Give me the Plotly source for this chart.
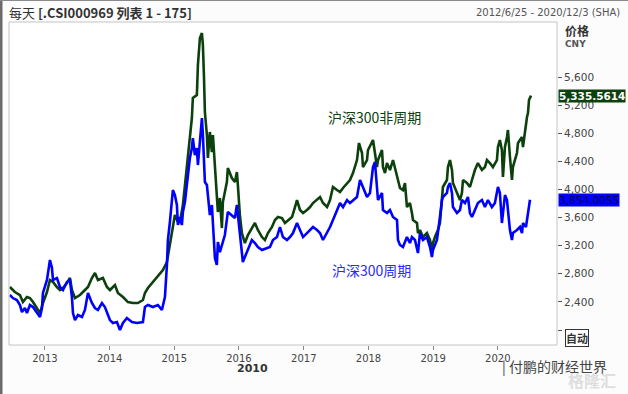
import datetime as dt
import plotly.graph_objects as go

# ---- data (decimal years, index values) ----
green_t = [2012.459, 2012.536, 2012.614, 2012.660, 2012.722, 2012.768, 2012.815, 2012.876, 2012.923, 2012.969,
           2013.031, 2013.077, 2013.124, 2013.185, 2013.232, 2013.278, 2013.340, 2013.386, 2013.417, 2013.464,
           2013.541, 2013.618, 2013.665, 2013.726, 2013.773, 2013.819, 2013.896, 2013.958, 2014.005, 2014.082,
           2014.128, 2014.206, 2014.283, 2014.360, 2014.437, 2014.515, 2014.546, 2014.592, 2014.669, 2014.747,
           2014.824, 2014.886, 2014.917, 2014.963, 2015.009, 2015.056, 2015.087, 2015.133, 2015.164, 2015.195,
           2015.210, 2015.272, 2015.287, 2015.349, 2015.365, 2015.396, 2015.427, 2015.442, 2015.458, 2015.473,
           2015.504, 2015.519, 2015.550, 2015.581, 2015.597, 2015.628, 2015.658, 2015.674, 2015.705, 2015.736,
           2015.751, 2015.813, 2015.828, 2015.890, 2015.937, 2015.968, 2015.983, 2016.014, 2016.045, 2016.091,
           2016.138, 2016.199, 2016.246, 2016.292, 2016.354, 2016.400, 2016.447, 2016.509, 2016.555, 2016.601,
           2016.663, 2016.709, 2016.756, 2016.818, 2016.864, 2016.895, 2016.941, 2016.988, 2017.049, 2017.096,
           2017.142, 2017.204, 2017.250, 2017.297, 2017.359, 2017.405, 2017.451, 2017.513, 2017.560, 2017.606,
           2017.668, 2017.714, 2017.760, 2017.822, 2017.853, 2017.900, 2017.915, 2017.977, 2017.992, 2018.054,
           2018.070, 2018.100, 2018.131, 2018.147, 2018.209, 2018.224, 2018.255, 2018.286, 2018.332, 2018.379,
           2018.441, 2018.487, 2018.533, 2018.564, 2018.595, 2018.641, 2018.672, 2018.688, 2018.750, 2018.765,
           2018.796, 2018.842, 2018.904, 2018.951, 2018.981, 2018.997, 2019.028, 2019.074, 2019.105, 2019.136,
           2019.151, 2019.213, 2019.229, 2019.260, 2019.291, 2019.306, 2019.368, 2019.414, 2019.445, 2019.461,
           2019.522, 2019.569, 2019.600, 2019.646, 2019.692, 2019.754, 2019.801, 2019.832, 2019.878, 2019.924,
           2019.986, 2020.002, 2020.032, 2020.063, 2020.079, 2020.110, 2020.141, 2020.156, 2020.187, 2020.218,
           2020.233, 2020.264, 2020.295, 2020.311, 2020.342, 2020.373, 2020.388, 2020.419, 2020.450, 2020.465,
           2020.481, 2020.512]
green_v = [2612, 2541, 2498, 2398, 2470, 2455, 2398, 2313, 2242, 2384,
           2541, 2712, 2683, 2612, 2569, 2598, 2669, 2740, 2569, 2455,
           2498, 2569, 2612, 2740, 2811, 2712, 2740, 2612, 2569, 2640,
           2527, 2470, 2398, 2384, 2384, 2427, 2527, 2598, 2683, 2783,
           2854, 2968, 3138, 3423, 3636, 3537, 3537, 3779, 4063, 4348,
           4490, 5017, 5301, 5344, 5771, 6155, 6226, 6056, 5629, 5102,
           4775, 4448, 4818, 4533, 4775, 4348, 3821, 3679, 3878, 3451,
           3821, 4106, 4305, 4163, 4106, 4248, 4063, 3636, 3380, 3238,
           3352, 3451, 3523, 3423, 3323, 3281, 3380, 3466, 3565, 3608,
           3594, 3523, 3565, 3608, 3750, 3850, 3708, 3665, 3708, 3750,
           3807, 3850, 3893, 3807, 3750, 3850, 4035, 3992, 3964, 4021,
           4092, 4135, 4234, 4419, 4661, 4519, 4319, 4419, 4561, 4661,
           4704, 4519, 4319, 4419, 4561, 4319, 4234, 4376, 4277, 4419,
           4177, 4021, 3992, 4092, 3750, 3807, 3665, 3565, 3523, 3380,
           3423, 3323, 3380, 3281, 3138, 3238, 3323, 3423, 3523, 3807,
           4035, 4135, 4319, 4419, 4277, 4092, 3950, 3850, 3950, 4135,
           4092, 4035, 4135, 4277, 4376, 4277, 4319, 4419, 4376, 4319,
           4419, 4604, 4704, 4561, 4177, 4604, 4746, 4846, 4462, 4135,
           4319, 4419, 4519, 4661, 4704, 4746, 4604, 4846, 5031, 5088,
           5273, 5335.5614]

blue_t = [2012.459, 2012.505, 2012.567, 2012.614, 2012.645, 2012.691, 2012.722, 2012.768, 2012.815, 2012.876,
          2012.923, 2012.954, 2012.969, 2013.031, 2013.077, 2013.108, 2013.124, 2013.185, 2013.232, 2013.278,
          2013.340, 2013.386, 2013.417, 2013.433, 2013.464, 2013.510, 2013.572, 2013.618, 2013.665, 2013.726,
          2013.773, 2013.819, 2013.881, 2013.927, 2013.958, 2014.005, 2014.051, 2014.113, 2014.159, 2014.206,
          2014.267, 2014.345, 2014.422, 2014.515, 2014.546, 2014.592, 2014.669, 2014.747, 2014.808, 2014.855,
          2014.886, 2014.901, 2014.932, 2014.978, 2015.009, 2015.040, 2015.056, 2015.087, 2015.117, 2015.133,
          2015.164, 2015.195, 2015.210, 2015.241, 2015.272, 2015.287, 2015.318, 2015.349, 2015.365, 2015.396,
          2015.427, 2015.442, 2015.473, 2015.504, 2015.519, 2015.550, 2015.581, 2015.597, 2015.628, 2015.658,
          2015.674, 2015.705, 2015.736, 2015.782, 2015.828, 2015.890, 2015.937, 2015.968, 2015.983, 2016.014,
          2016.045, 2016.060, 2016.091, 2016.138, 2016.199, 2016.246, 2016.292, 2016.354, 2016.431, 2016.478,
          2016.524, 2016.586, 2016.632, 2016.678, 2016.740, 2016.787, 2016.833, 2016.895, 2016.941, 2016.988,
          2017.049, 2017.096, 2017.142, 2017.204, 2017.250, 2017.297, 2017.359, 2017.405, 2017.451, 2017.513,
          2017.560, 2017.606, 2017.668, 2017.714, 2017.760, 2017.822, 2017.869, 2017.915, 2017.977, 2018.023,
          2018.070, 2018.100, 2018.131, 2018.147, 2018.209, 2018.224, 2018.286, 2018.332, 2018.379, 2018.441,
          2018.456, 2018.487, 2018.533, 2018.595, 2018.641, 2018.672, 2018.719, 2018.765, 2018.796, 2018.842,
          2018.904, 2018.951, 2018.981, 2018.997, 2019.059, 2019.074, 2019.105, 2019.136, 2019.151, 2019.213,
          2019.229, 2019.260, 2019.291, 2019.306, 2019.368, 2019.414, 2019.445, 2019.492, 2019.538, 2019.569,
          2019.600, 2019.646, 2019.692, 2019.754, 2019.801, 2019.847, 2019.909, 2019.955, 2019.986, 2020.002,
          2020.032, 2020.063, 2020.110, 2020.141, 2020.156, 2020.187, 2020.218, 2020.233, 2020.295, 2020.342,
          2020.373, 2020.388, 2020.434, 2020.465, 2020.496]
blue_v = [2498, 2455, 2427, 2356, 2256, 2313, 2242, 2356, 2327, 2256,
          2185, 2313, 2527, 2712, 2996, 2882, 2712, 2740, 2612, 2569,
          2683, 2712, 2470, 2242, 2142, 2213, 2185, 2285, 2527, 2384,
          2313, 2285, 2384, 2327, 2256, 2142, 2100, 2114, 2000, 2100,
          2171, 2114, 2100, 2114, 2327, 2356, 2327, 2356, 2285, 2470,
          2925, 3281, 3537, 3992, 3921, 3779, 3494, 3608, 3494, 3679,
          3821, 4063, 4248, 4448, 4590, 4732, 4490, 4590, 4348, 4633,
          5017, 4775, 4106, 4063, 3878, 3636, 3779, 3494, 3025, 2925,
          3252, 3110, 3210, 3352, 3679, 3636, 3594, 3779, 3636, 3352,
          3067, 2968, 3039, 3138, 3281, 3238, 3181, 3138, 3167, 3181,
          3281, 3323, 3466, 3323, 3281, 3323, 3380, 3523, 3423, 3323,
          3380, 3423, 3466, 3423, 3380, 3281, 3380, 3466, 3565, 3708,
          3807, 3750, 3850, 3807, 3850, 3893, 4135, 4035, 3893, 3950,
          4319, 4391, 3992, 3850, 3950, 3708, 3665, 3708, 3608, 3565,
          3281, 3210, 3181, 3323, 3238, 3323, 3281, 3096, 3380, 3281,
          3323, 3181, 3039, 3138, 3281, 3423, 3608, 3850, 3893, 3950,
          4035, 4092, 3950, 3750, 3665, 3708, 3850, 3807, 3893, 3665,
          3608, 3708, 3807, 3850, 3750, 3850, 3750, 3807, 3992, 4035,
          3950, 3523, 3921, 3850, 3708, 3423, 3281, 3380, 3423, 3466,
          3380, 3523, 3466, 3665, 3854.0055]

green_name = "沪深300非周期"
blue_name = "沪深300周期"
year_ticks = [2013, 2014, 2015, 2016, 2017, 2018, 2019, 2020]
price_ticks = [2000, 2400, 2800, 3200, 3600, 4000, 4400, 4800, 5200, 5600]
price_labels = ["", "2,400", "2,800", "3,200", "3,600", "4,000", "4,400", "4,800", "5,200", "5,600"]


def to_date(t):
    y = int(t)
    a = dt.datetime(y, 1, 1)
    b = dt.datetime(y + 1, 1, 1)
    return a + (b - a) * (t - y)


green_x = [to_date(t) for t in green_t]
blue_x = [to_date(t) for t in blue_t]

GREEN = "#0c400c"
BLUE = "#0000ff"
FONT = "DejaVu Sans, Liberation Sans, Noto Sans CJK SC, sans-serif"
CJK = "Noto Sans CJK SC, sans-serif"

fig = go.Figure()
fig.add_trace(go.Scatter(x=green_x, y=green_v, mode="lines", name=green_name,
                         line=dict(color=GREEN, width=2.6), hoverinfo="skip"))
fig.add_trace(go.Scatter(x=blue_x, y=blue_v, mode="lines", name=blue_name,
                         line=dict(color=BLUE, width=2.6), hoverinfo="skip"))

# geometry helpers (plot area: x 9..557, y 22..345 px)
L, R, T, B, W, H = 9, 557, 22, 345, 628, 394
def px(x):
    return (x - L) / (R - L)
def py(y):
    return (B - y) / (B - T)

ann = []
ann.append(dict(text="每天 <b>[.CSI000969 列表 1 - 175]</b>", x=px(7), y=py(12), xref="paper", yref="paper",
                xanchor="left", yanchor="middle", showarrow=False, font=dict(family=CJK, size=13, color="#333333")))
ann.append(dict(text="2012/6/25 - 2020/12/3 (SHA)", x=px(622), y=py(12), xref="paper", yref="paper",
                xanchor="right", yanchor="middle", showarrow=False, font=dict(family=FONT, size=10, color="#555555")))
ann.append(dict(text="<b>价格</b>", x=px(563), y=py(31), xref="paper", yref="paper",
                xanchor="left", yanchor="middle", showarrow=False, font=dict(family=CJK, size=12, color="#333333")))
ann.append(dict(text="<b>CNY</b>", x=px(563), y=py(44), xref="paper", yref="paper",
                xanchor="left", yanchor="middle", showarrow=False, font=dict(family=FONT, size=9, color="#555555")))
ann.append(dict(text="<b>5,335.5614</b>", x=px(558), y=green_v[-1], xref="paper", yref="y",
                xanchor="left", yanchor="middle", showarrow=False, bgcolor=GREEN, borderpad=0,
                font=dict(family=FONT, size=10.5, color="#ffffff")))
ann.append(dict(text="3,854.0055", x=px(558), y=blue_v[-1], xref="paper", yref="y",
                xanchor="left", yanchor="middle", showarrow=False, bgcolor=BLUE, borderpad=0,
                font=dict(family=FONT, size=10.5, color="#000040")))
ann.append(dict(text="<b>自动</b>", x=px(565), y=py(338), xref="paper", yref="paper",
                xanchor="left", yanchor="middle", showarrow=False, bgcolor="#ffffff", bordercolor="#333333",
                borderwidth=1, borderpad=0, font=dict(family=CJK, size=11, color="#333333")))
ann.append(dict(text="<b>2010</b>", x=px(252), y=py(368), xref="paper", yref="paper",
                xanchor="center", yanchor="middle", showarrow=False, font=dict(family=FONT, size=11, color="#333333")))
ann.append(dict(text=green_name, x=to_date(2018.10), y=5031, xref="x", yref="y",
                xanchor="center", yanchor="middle", showarrow=False, font=dict(family=CJK, size=14, color=GREEN)))
ann.append(dict(text=blue_name, x=to_date(2018.05), y=2854, xref="x", yref="y",
                xanchor="center", yanchor="middle", showarrow=False, font=dict(family=CJK, size=14, color="#2a2aff")))
ann.append(dict(text="| 付鹏的财经世界", x=px(500), y=py(366), xref="paper", yref="paper",
                xanchor="left", yanchor="middle", showarrow=False, font=dict(family=CJK, size=14, color="#444444")))
ann.append(dict(text="<b>格隆汇</b>", x=px(592), y=py(380), xref="paper", yref="paper",
                xanchor="center", yanchor="middle", showarrow=False, font=dict(family=CJK, size=16, color="#dedede")))

shapes = [
    # window frame: left dark bar and top line
    dict(type="rect", xref="paper", yref="paper", x0=px(0), x1=px(2.5), y0=py(H), y1=py(0),
         fillcolor="#6b6b6b", line=dict(width=0), layer="above"),
    dict(type="line", xref="paper", yref="paper", x0=px(0), x1=px(W), y0=py(0.5), y1=py(0.5),
         line=dict(color="#8a8a8a", width=1)),
    # plot border
    dict(type="rect", xref="paper", yref="paper", x0=0, x1=1, y0=0, y1=1,
         line=dict(color="#c4c4c4", width=1), layer="above"),
]

fig.update_layout(
    width=W, height=H,
    margin=dict(l=L, r=W - R, t=T, b=H - B),
    paper_bgcolor="#fcfcfc", plot_bgcolor="#ffffff",
    showlegend=False,
    annotations=ann, shapes=shapes,
    xaxis=dict(type="date", range=["2012-06-12", "2020-11-30"],
               tickvals=[dt.datetime(y, 1, 1) for y in year_ticks],
               ticktext=[str(y) for y in year_ticks],
               ticks="outside", ticklen=4, tickcolor="#888888",
               showgrid=False, zeroline=False, showline=False,
               tickfont=dict(family=FONT, size=10, color="#444444")),
    yaxis=dict(side="right", range=[1787, 6383],
               tickvals=price_ticks, ticktext=price_labels,
               ticks="outside", ticklen=4, tickcolor="#555555",
               showgrid=False, zeroline=False, showline=False,
               tickfont=dict(family=FONT, size=10.5, color="#444444")),
)

fig.write_html("out.html", config={"displayModeBar": False},
               post_script="document.body.style.margin='0';document.body.style.padding='0';"
                           "document.body.style.overflow='hidden';")
